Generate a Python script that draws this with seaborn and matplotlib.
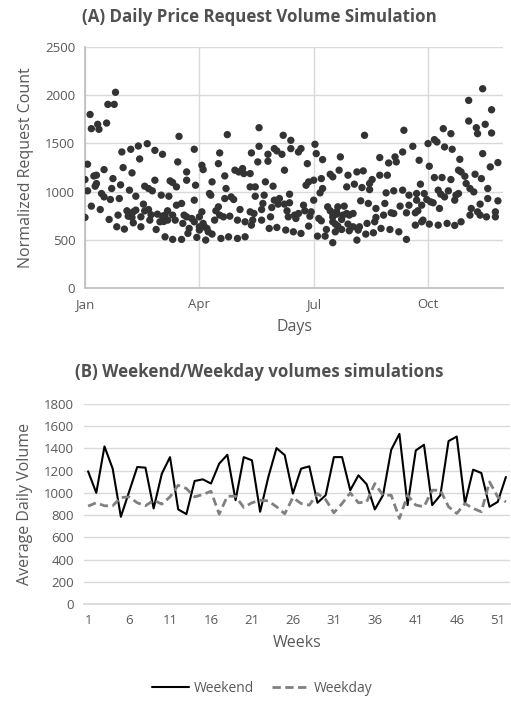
import matplotlib
matplotlib.use("Agg")
import matplotlib.pyplot as plt
import seaborn as sns
import numpy as np
import pandas as pd

sns.set_theme(style="white")
plt.rcParams['font.family'] = ['Open Sans', 'DejaVu Sans']

TEXT = '#595959'
GRID = '#d9d9d9'

# (A) daily volumes (day of year, normalized count)
day_a = [24, 18, 23, 4, 5, 10, 11, 17, 2, 0, 2, 0, 5, 12, 9, 15, 8, 13, 15, 21,
         20, 22, 28, 27, 29, 36, 42, 49, 55, 61, 30, 37, 43, 35, 40, 47, 50, 53, 55, 60,
         19, 25, 31, 26, 33, 34, 37, 40, 44, 46, 50, 51, 57, 56, 63, 38, 44, 59,
         38, 47, 52, 61, 62, 7, 9]
val_a = [2030, 1905, 1905, 1800, 1653, 1698, 1646, 1711, 1284, 1125, 1008, 732, 849, 814, 1170, 1228, 1056, 980, 945, 1032,
         918, 1135, 1070, 928, 1411, 1439, 1473, 1497, 1428, 1387, 1249, 1194, 1339, 1015, 952, 1056, 1032, 1008, 1118, 963,
         711, 635, 611, 756, 801, 745, 732, 808, 738, 870, 814, 704, 766, 607, 531, 676, 635, 687,
         790, 800, 760, 745, 690, 1162, 1083]

day_b = [74, 112, 86, 106, 73, 92, 93, 105, 80, 80, 118, 124, 125, 121, 110, 67, 69, 72, 87, 100,
         111, 66, 86, 98, 99, 110, 115, 117, 72, 76, 65, 105, 103, 122, 63, 65, 69, 71, 78, 80,
         84, 86, 90, 92, 77, 82, 81, 90, 93, 94, 96, 97, 90, 100, 102, 106, 109, 114, 120, 126,
         131, 69, 76, 88, 95, 107, 113, 120, 126]
val_b = [1573, 1591, 1439, 1401, 1308, 1273, 1228, 1290, 1204, 1118, 1222, 1239, 1187, 1204, 1163, 1111, 1094, 1049, 1066, 1101,
         1032, 952, 911, 980, 963, 928, 945, 918, 859, 877, 801, 842, 801, 814, 756, 704, 756, 704, 756, 738,
         721, 687, 738, 790, 670, 618, 566, 635, 670, 635, 618, 583, 601, 559, 704, 756, 738, 745, 704, 687,
         652, 504, 504, 525, 497, 514, 531, 514, 531]

day_c = [137, 156, 162, 181, 137, 131, 149, 151, 155, 162, 168, 170, 182, 187, 136, 144, 144, 175, 157, 130,
         193, 142, 148, 174, 176, 180, 186, 187, 185, 130, 134, 134, 141, 161, 149, 153, 152, 180, 140, 139,
         147, 157, 161, 130, 133, 132, 139, 146, 159, 160, 165, 168, 166, 172, 173, 178, 177, 184, 186, 191,
         193, 195, 198, 197, 190, 145, 151, 158, 164, 170, 176, 183, 189]
val_c = [1663, 1584, 1532, 1491, 1470, 1401, 1446, 1422, 1387, 1446, 1411, 1446, 1394, 1332, 1308, 1315, 1387, 1290, 1222, 1187,
         1180, 1101, 1056, 1066, 1101, 1118, 1135, 1032, 987, 1049, 1049, 952, 963, 973, 911, 928, 870, 911, 877, 814,
         835, 870, 884, 790, 773, 704, 704, 738, 801, 738, 756, 773, 721, 859, 801, 790, 745, 721, 697, 842,
         801, 738, 790, 663, 607, 618, 628, 601, 583, 566, 642, 538, 538]

day_d = [220, 251, 258, 250, 201, 232, 239, 244, 245, 263, 200, 207, 214, 219, 195, 226, 224, 224, 232, 238,
         206, 212, 218, 237, 243, 250, 255, 261, 264, 217, 223, 199, 204, 229, 236, 248, 255, 261, 265, 195,
         198, 203, 206, 208, 211, 202, 229, 235, 241, 243, 195, 199, 207, 211, 216, 222, 228, 253, 260, 197,
         202, 208, 215, 221, 227, 233, 240, 247, 253, 260, 265, 195, 214]
val_d = [1584, 1636, 1470, 1411, 1360, 1353, 1297, 1360, 1308, 1325, 1222, 1170, 1204, 1215, 1153, 1125, 1084, 1021, 1170, 1170,
         1049, 1077, 1042, 987, 1008, 1015, 963, 980, 1077, 904, 877, 842, 849, 825, 877, 849, 859, 911, 859, 773,
         766, 756, 773, 756, 773, 711, 732, 756, 780, 773, 687, 642, 663, 635, 635, 670, 687, 780, 780, 583,
         607, 594, 601, 559, 573, 618, 607, 583, 504, 652, 687, 470, 497]

day_e = [313, 302, 320, 302, 308, 309, 315, 320, 282, 288, 270, 277, 275, 283, 289, 313, 295, 271, 325, 319,
         294, 296, 299, 307, 312, 275, 281, 288, 300, 303, 306, 278, 280, 283, 286, 292, 294, 291, 317, 267,
         269, 272, 274, 279, 317, 325, 311, 304, 309, 303, 311, 316, 323, 323, 262, 266, 271, 278, 285, 291,
         296]
val_e = [2067, 1946, 1849, 1732, 1663, 1601, 1698, 1608, 1653, 1601, 1498, 1515, 1539, 1463, 1439, 1394, 1335, 1263, 1301, 1256,
         1222, 1204, 1159, 1180, 1135, 1146, 1146, 1125, 1084, 1032, 997, 1015, 973, 945, 1008, 963, 980, 911, 1032, 980,
         918, 894, 884, 825, 928, 904, 870, 825, 790, 756, 756, 738, 790, 738, 801, 704, 663, 652, 670, 649,
         687]

# (B) weekly averages
weeks = list(range(1, 53))
weekend = [1194, 1000, 1418, 1218, 785, 1009, 1233, 1227, 860, 1173, 1322, 851, 809, 1107, 1122, 1084,
           1263, 1343, 934, 1322, 1293, 830, 1143, 1403, 1340, 994, 1218, 1239, 911, 979, 1322, 1322,
           1024, 1158, 1078, 851, 979, 1388, 1531, 890, 1382, 1433, 890, 979, 1466, 1507, 904, 1209,
           1179, 875, 919, 1143]
weekday = [881, 911, 884, 884, 958, 964, 911, 884, 934, 899, 964, 1069, 1039, 964, 985, 1015,
           809, 970, 970, 869, 911, 934, 928, 875, 812, 958, 904, 890, 994, 940, 821, 904,
           1000, 911, 919, 1084, 979, 979, 770, 979, 890, 875, 1024, 1024, 875, 815, 904, 860,
           830, 1099, 964, 919]

daily = pd.DataFrame({'day': day_a + day_b + day_c + day_d + day_e,
                      'count': val_a + val_b + val_c + val_d + val_e})
weekly = pd.DataFrame({'week': weeks * 2,
                       'volume': weekend + weekday,
                       'type': ['Weekend'] * 52 + ['Weekday'] * 52})

W, H = 511, 709
fig = plt.figure(figsize=(W / 100, H / 100), dpi=100)

# ---- panel A
ax1 = fig.add_axes([85 / W, 1 - 288 / H, (503 - 85) / W, (288 - 47) / H])
sns.scatterplot(data=daily, x='day', y='count', color='#333333', s=28,
                edgecolor='none', ax=ax1, zorder=3)
ax1.set_xlim(0, 329)
ax1.set_ylim(0, 2500)
ax1.set_xticks([0, 90, 180, 270])
ax1.set_xticklabels(['Jan', 'Apr', 'Jul', 'Oct'])
ax1.set_yticks(range(0, 2501, 500))
ax1.grid(True, color=GRID, linewidth=1)
ax1.set_axisbelow(True)
for s in ['top', 'right']:
    ax1.spines[s].set_visible(False)
for s in ['left', 'bottom']:
    ax1.spines[s].set_color('#bfbfbf')
ax1.set_xlabel('Days', color=TEXT, fontsize=11.5, labelpad=6)
ax1.set_ylabel('Normalized Request Count', color=TEXT, fontsize=11.5, labelpad=8)
ax1.tick_params(colors=TEXT, labelsize=9.5, length=0, pad=7)
fig.text(259 / W, 1 - 17 / H, '(A) Daily Price Request Volume Simulation',
         ha='center', va='center', fontsize=12.2, fontweight='bold', color='#505050')

# ---- panel B
ax2 = fig.add_axes([84 / W, 1 - 604 / H, (510 - 84) / W, (604 - 404) / H])
sns.lineplot(data=weekly, x='week', y='volume', hue='type', style='type',
             palette={'Weekend': '#000000', 'Weekday': '#808080'},
             dashes={'Weekend': '', 'Weekday': (3, 1.6)},
             ax=ax2, legend=False)
ax2.lines[0].set_linewidth(1.5)
ax2.lines[1].set_linewidth(2.0)
ax2.set_xlim(0.5, 52.5)
ax2.set_ylim(0, 1800)
ax2.set_xticks(range(1, 52, 5))
ax2.set_yticks(range(0, 1801, 200))
ax2.yaxis.grid(True, color=GRID, linewidth=1)
ax2.xaxis.grid(False)
ax2.set_axisbelow(True)
for s in ['top', 'right', 'left']:
    ax2.spines[s].set_visible(False)
ax2.spines['bottom'].set_color(GRID)
ax2.set_xlabel('Weeks', color=TEXT, fontsize=11.5, labelpad=6)
ax2.set_ylabel('Average Daily Volume', color=TEXT, fontsize=11.5, labelpad=8)
ax2.tick_params(colors=TEXT, labelsize=9.5, length=0, pad=7)
fig.text(259 / W, 1 - 372 / H, '(B) Weekend/Weekday volumes simulations',
         ha='center', va='center', fontsize=12.2, fontweight='bold', color='#505050')

handles = [plt.Line2D([], [], color='#000000', lw=1.5),
           plt.Line2D([], [], color='#808080', lw=2.0, dashes=(3, 1.6))]
fig.legend(handles, ['Weekend', 'Weekday'], loc='center', ncol=2,
           bbox_to_anchor=(262 / W, 1 - 688 / H), frameon=False,
           fontsize=10, labelcolor=TEXT, handlelength=2.7, columnspacing=1.3,
           handletextpad=0.3)

fig.savefig('out.png', dpi=100)
